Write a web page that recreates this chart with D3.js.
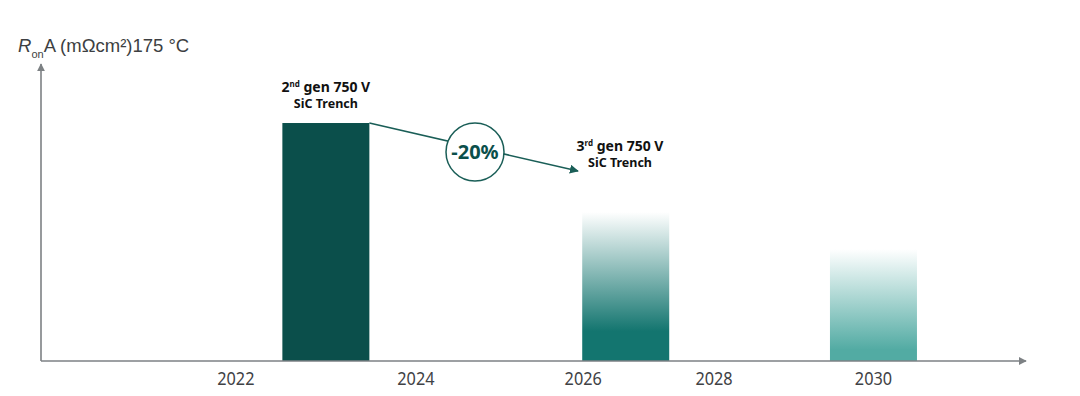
<!DOCTYPE html>
<html>
<head>
<meta charset="utf-8">
<script src="https://cdn.jsdelivr.net/npm/d3@7"></script>
<style>
  body { margin: 0; background: #fff; }
  svg { display: block; font-family: "Noto Sans", "DejaVu Sans", sans-serif; }
</style>
</head>
<body>
<div id="chart"></div>
<script>
// tick years along the axis (spacing is uneven in the original)
const tickYears = [2022, 2024, 2026, 2028, 2030]
const tickLabels = ["2022", "2024", "2026", "2028", "2030"]
// fractional spot of each tick along the axis
const tickSpots = [0.198, 0.381, 0.551, 0.684, 0.846]

// bars: where they sit in time and their RonA height (relative units)
const barYears = [2023, 2026.65, 2030]
const barValues = [80.4, 50.3, 37.8]

const width = 1080, height = 396
const margin = { top: 65, right: 55, bottom: 35, left: 41 }
const innerW = width - margin.left - margin.right
const innerH = height - margin.top - margin.bottom

const svg = d3.select("#chart").append("svg")
    .attr("width", width)
    .attr("height", height)

const defs = svg.append("defs")

const x = d3.scaleLinear()
    .domain(tickYears)
    .range(tickSpots.map(s => s * innerW))

const y = d3.scaleLinear()
    .domain([0, 100])
    .range([innerH, 0])

const g = svg.append("g").attr("transform", "translate(" + margin.left + "," + margin.top + ")")

const barW = 87

// gradients for the future bars
const grads = [
    null,
    { id: "g2", color: "#13756f", solidTo: 0.2 },
    { id: "g3", color: "#52aba3", solidTo: 0.1 }
]
grads.forEach(gr => {
    if (!gr) return
    const lg = defs.append("linearGradient")
        .attr("id", gr.id)
        .attr("x1", 0).attr("y1", 1).attr("x2", 0).attr("y2", 0)
    lg.append("stop").attr("offset", 0).attr("stop-color", gr.color)
    lg.append("stop").attr("offset", gr.solidTo).attr("stop-color", gr.color)
    lg.append("stop").attr("offset", 1).attr("stop-color", gr.color).attr("stop-opacity", 0)
})

const fills = ["#0b4f4b", "url(#g2)", "url(#g3)"]

g.selectAll(".bar")
    .data(barValues)
    .enter()
    .append("rect")
    .attr("class", "bar")
    .attr("x", (d, i) => x(barYears[i]) - barW / 2)
    .attr("y", d => y(d))
    .attr("width", barW)
    .attr("height", d => innerH - y(d))
    .attr("fill", (d, i) => fills[i])

// axes with arrow heads
defs.append("marker")
    .attr("id", "arr")
    .attr("viewBox", "0 0 10 10")
    .attr("refX", 9).attr("refY", 5)
    .attr("markerWidth", 8).attr("markerHeight", 8)
    .attr("markerUnits", "userSpaceOnUse")
    .attr("orient", "auto")
    .append("path")
    .attr("d", "M0,0 L10,5 L0,10 Z")
    .attr("fill", "#7d8184")

g.append("line")
    .attr("x1", 0).attr("y1", innerH)
    .attr("x2", 0).attr("y2", -1)
    .attr("stroke", "#7d8184").attr("stroke-width", 1.6)
    .attr("marker-end", "url(#arr)")

g.append("line")
    .attr("x1", 0).attr("y1", innerH)
    .attr("x2", 985).attr("y2", innerH)
    .attr("stroke", "#7d8184").attr("stroke-width", 1.6)
    .attr("marker-end", "url(#arr)")

// year labels, a bit tall and narrow like the original
g.append("g")
    .selectAll("text")
    .data(tickYears)
    .enter()
    .append("text")
    .attr("transform", d => "translate(" + x(d) + "," + (innerH + 24) + ") scale(0.88,1)")
    .attr("text-anchor", "middle")
    .attr("fill", "#3f4245")
    .attr("font-size", 18.5)
    .text((d, i) => tickLabels[i])

// y title
const yt = svg.append("text")
    .attr("x", 18).attr("y", 52)
    .attr("fill", "#3d3f42")
    .attr("font-family", "'Liberation Sans', Arial, sans-serif")
    .attr("font-size", 18.5)
yt.append("tspan").attr("font-style", "italic").text("R")
yt.append("tspan").attr("font-size", 11).attr("dy", 6).text("on")
yt.append("tspan").attr("dy", -6).text("A (mΩcm²)175 °C")

// bar labels
function genLabel(cx, top, num, sup) {
    const t = g.append("text")
        .attr("x", cx).attr("y", top)
        .attr("text-anchor", "middle").attr("font-weight", "bold")
        .attr("font-size", 14).attr("fill", "#111")
    t.append("tspan").text(num)
    t.append("tspan").attr("font-size", 8).attr("dy", -5).text(sup)
    t.append("tspan").attr("dy", 5).text(" gen 750 V")
    g.append("text")
        .attr("x", cx).attr("y", top + 16)
        .attr("text-anchor", "middle").attr("font-weight", "bold")
        .attr("font-size", 12.5).attr("fill", "#111")
        .text("SiC Trench")
}
genLabel(x(barYears[0]), y(barValues[0]) - 31, "2", "nd")

// arrow from bar 1 to the 3rd gen label
const ax0 = x(barYears[0]) + barW / 2, ay0 = y(barValues[0])
const ax1 = 537, ay1 = 106
defs.append("marker")
    .attr("id", "arr2")
    .attr("viewBox", "0 0 10 10")
    .attr("refX", 9).attr("refY", 5)
    .attr("markerWidth", 9).attr("markerHeight", 9)
    .attr("markerUnits", "userSpaceOnUse")
    .attr("orient", "auto")
    .append("path")
    .attr("d", "M0,0 L10,5 L0,10 Z")
    .attr("fill", "#1a5e57")
g.append("line")
    .attr("x1", ax0).attr("y1", ay0)
    .attr("x2", ax1).attr("y2", ay1)
    .attr("stroke", "#1a5e57").attr("stroke-width", 1.5)
    .attr("marker-end", "url(#arr2)")

const ccx = 434, ccy = 87
g.append("circle")
    .attr("cx", ccx).attr("cy", ccy).attr("r", 29)
    .attr("fill", "#fff").attr("stroke", "#1a5e57").attr("stroke-width", 1.5)
g.append("text")
    .attr("x", ccx).attr("y", ccy + 7)
    .attr("text-anchor", "middle").attr("font-weight", "bold")
    .attr("font-size", 20).attr("fill", "#0b4f4b")
    .text("-20%")

genLabel(579, 86, "3", "rd")
</script>
</body>
</html>
